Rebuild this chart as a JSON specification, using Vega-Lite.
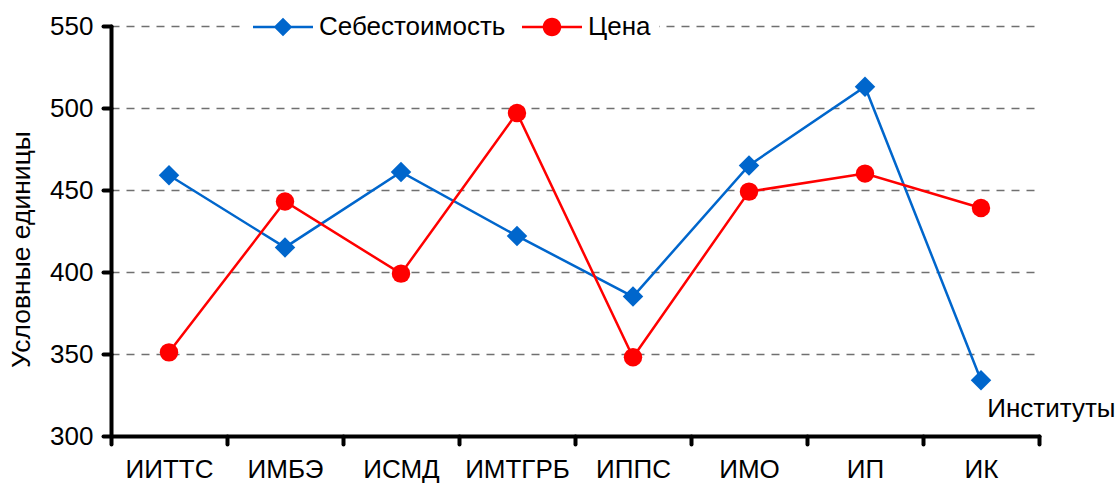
{
  "$schema": "https://vega.github.io/schema/vega-lite/v6.json",
  "autosize": "none",
  "width": 928,
  "height": 410,
  "padding": {"left": 111, "top": 26, "right": 81, "bottom": 50},
  "background": "white",
  "config": {
    "font": "Liberation Sans",
    "view": {"stroke": null},
    "axis": {"labelFont": "Liberation Sans", "titleFont": "Liberation Sans", "labelColor": "black", "titleColor": "black", "titleFontWeight": "normal"}
  },
  "data": {
    "values": [
      {"inst": "ИИТТС", "series": "Себестоимость", "value": 459},
      {"inst": "ИМБЭ", "series": "Себестоимость", "value": 415},
      {"inst": "ИСМД", "series": "Себестоимость", "value": 461},
      {"inst": "ИМТГРБ", "series": "Себестоимость", "value": 422},
      {"inst": "ИППС", "series": "Себестоимость", "value": 385},
      {"inst": "ИМО", "series": "Себестоимость", "value": 465},
      {"inst": "ИП", "series": "Себестоимость", "value": 513},
      {"inst": "ИК", "series": "Себестоимость", "value": 334},
      {"inst": "ИИТТС", "series": "Цена", "value": 351},
      {"inst": "ИМБЭ", "series": "Цена", "value": 443},
      {"inst": "ИСМД", "series": "Цена", "value": 399},
      {"inst": "ИМТГРБ", "series": "Цена", "value": 497},
      {"inst": "ИППС", "series": "Цена", "value": 348},
      {"inst": "ИМО", "series": "Цена", "value": 449},
      {"inst": "ИП", "series": "Цена", "value": 460},
      {"inst": "ИК", "series": "Цена", "value": 439}
    ]
  },
  "encoding": {
    "x": {
      "field": "inst", "type": "nominal", "sort": null,
      "scale": {"type": "band", "paddingInner": 0, "paddingOuter": 0},
      "axis": {
        "title": "Институты", "titleFontSize": 26, "titleX": 1004, "titleY": -20, "titleAlign": "right", "titleBaseline": "alphabetic", "titleAnchor": null,
        "labelAngle": 0, "labelFontSize": 26, "labelPadding": 12,
        "tickBand": "extent", "tickSize": 8, "tickWidth": 4, "tickColor": "black", "tickCap": "round",
        "domainColor": "black", "domainWidth": 4, "domainCap": "round", "grid": false
      }
    },
    "y": {
      "field": "value", "type": "quantitative",
      "scale": {"domain": [300, 550], "nice": false, "zero": false},
      "axis": {
        "title": "Условные единицы", "titleFontSize": 26.5, "titlePadding": 14, "titleY": 223,
        "values": [300, 350, 400, 450, 500, 550],
        "labelFontSize": 26, "labelPadding": 10,
        "tickSize": 8, "tickWidth": 4, "tickColor": "black", "tickCap": "round",
        "domainColor": "black", "domainWidth": 4, "domainCap": "round",
        "grid": true, "gridColor": "#707070", "gridDash": [8, 7], "gridWidth": 1.5
      }
    }
  },
  "layer": [
    {"transform": [{"filter": "datum.series === 'Себестоимость'"}], "mark": {"type": "line", "strokeWidth": 2.5, "color": "#0066CC"}},
    {"transform": [{"filter": "datum.series === 'Цена'"}], "mark": {"type": "line", "strokeWidth": 2.5, "color": "#FF0000"}},
    {"transform": [{"filter": "datum.series === 'Себестоимость'"}], "mark": {"type": "point", "shape": "diamond", "filled": true, "opacity": 1, "color": "#0066CC", "size": 420}},
    {"transform": [{"filter": "datum.series === 'Цена'"}], "mark": {"type": "point", "shape": "circle", "filled": true, "opacity": 1, "color": "#FF0000", "size": 340}},
    {
      "transform": [{"filter": "datum.value < 0"}],
      "mark": {"type": "point", "filled": true},
      "encoding": {
        "color": {
          "field": "series", "type": "nominal",
          "scale": {"domain": ["Себестоимость", "Цена"], "range": ["#0066CC", "#FF0000"]},
          "legend": {
            "title": null, "orient": "none", "direction": "horizontal",
            "legendX": 134, "legendY": -37,
            "labelFontSize": 26, "labelColor": "black", "labelFont": "Liberation Sans", "labelLimit": 0,
            "symbolSize": 3600, "labelOffset": 6, "columnPadding": 16, "symbolStrokeWidth": 0, "symbolOpacity": 1,
            "fillColor": "white", "padding": 8, "strokeColor": null
          }
        },
        "shape": {
          "field": "series", "type": "nominal",
          "scale": {"domain": ["Себестоимость", "Цена"], "range": ["M-1,-0.04H1V0.04H-1Z M0,-0.31L0.31,0L0,0.31L-0.31,0Z", "M-1,-0.04H1V0.04H-1Z M-0.31,0A0.31,0.31 0 1,1 0.31,0A0.31,0.31 0 1,1 -0.31,0Z"]},
          "legend": {
            "title": null, "orient": "none", "direction": "horizontal",
            "legendX": 134, "legendY": -37,
            "labelFontSize": 26, "labelColor": "black", "labelFont": "Liberation Sans", "labelLimit": 0,
            "symbolSize": 3600, "labelOffset": 6, "columnPadding": 16, "symbolStrokeWidth": 0, "symbolOpacity": 1,
            "fillColor": "white", "padding": 8, "strokeColor": null
          }
        }
      }
    }
  ]
}
